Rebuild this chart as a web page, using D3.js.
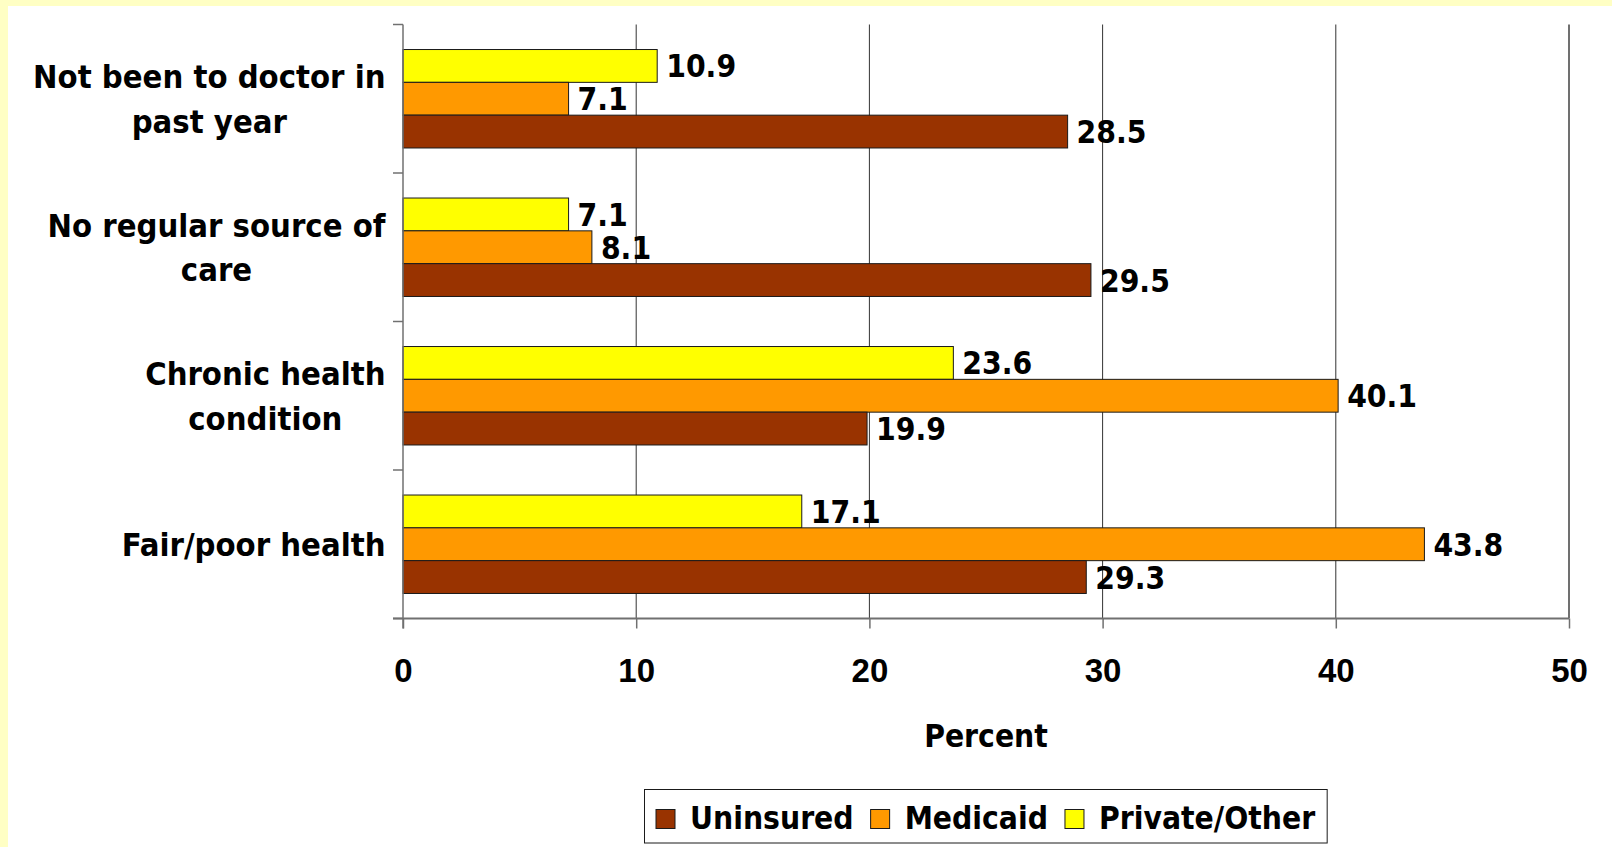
<!DOCTYPE html>
<html>
<head>
<meta charset="utf-8">
<script src="https://cdn.jsdelivr.net/npm/d3@7"></script>
<style>
  html, body { margin: 0; padding: 0; background: #ffffff; }
  svg { display: block; }
  .lbl { font-family: "DejaVu Sans Condensed", "DejaVu Sans", sans-serif; font-stretch: condensed; font-weight: bold; font-size: 31.5px; fill: #000; }
  .cat-lbl { font-size: 32.5px; }
  .tick-lbl { font-family: "Liberation Sans", Arial, sans-serif; font-weight: bold; font-size: 33px; fill: #000; }
</style>
</head>
<body>
<script>
var WIDTH = 1612;
var HEIGHT = 847;

// categories, top to bottom (each as lines of the label)
var categories = [
    ["Not been to doctor in", "past year"],
    ["No regular source of", "care"],
    ["Chronic health", "condition"],
    ["Fair/poor health"]
];
var seriesNames = ["Private/Other", "Medicaid", "Uninsured"];   // top to bottom inside a group
var seriesColors = ["#ffff00", "#ff9900", "#993300"];
var privateOther = [10.9, 7.1, 23.6, 17.1];
var medicaid = [7.1, 8.1, 40.1, 43.8];
var uninsured = [28.5, 29.5, 19.9, 29.3];
var xTicks = [0, 10, 20, 30, 40, 50];
var legendOrder = ["Uninsured", "Medicaid", "Private/Other"];

var PLOT_LEFT = 403;
var PLOT_RIGHT = 1569;
var PLOT_TOP = 24.5;
var PLOT_BOTTOM = 618.5;
var TICK = 10;

var svg = d3.select("body").append("svg")
    .attr("width", WIDTH)
    .attr("height", HEIGHT);

// light yellow frame on the left and top
svg.append("rect").attr("x", 0).attr("y", 0).attr("width", WIDTH).attr("height", 6).style("fill", "#ffffc4");
svg.append("rect").attr("x", 0).attr("y", 0).attr("width", 8).attr("height", HEIGHT).style("fill", "#ffffc4");

var x = d3.scaleLinear().domain([0, 50]).range([PLOT_LEFT, PLOT_RIGHT]);
var catIdx = d3.range(categories.length);
var y = d3.scaleBand().domain(catIdx).range([PLOT_TOP, PLOT_BOTTOM])
    .paddingInner(0.337).paddingOuter(0.1685);
var ySub = d3.scaleBand().domain(d3.range(seriesNames.length)).range([0, y.bandwidth()]);
var step = y.step();

var values = [privateOther, medicaid, uninsured];

// vertical grid lines
svg.append("g").selectAll("line")
    .data(xTicks.slice(1))
    .enter().append("line")
    .attr("x1", function(d){ return x(d); })
    .attr("x2", function(d){ return x(d); })
    .attr("y1", PLOT_TOP)
    .attr("y2", PLOT_BOTTOM)
    .style("stroke", function(d){ return d == 50 ? "#707070" : "#333333"; })
    .style("stroke-width", function(d){ return d == 50 ? 2 : 1; });

// bars
catIdx.forEach(function(ci){
    var g = svg.append("g").attr("transform", "translate(0," + y(ci) + ")");
    values.forEach(function(vals, si){
        var v = vals[ci];
        g.append("rect")
            .attr("x", x(0))
            .attr("y", ySub(si))
            .attr("width", x(v) - x(0))
            .attr("height", ySub.bandwidth())
            .style("fill", seriesColors[si])
            .style("stroke", "#1a1a1a")
            .style("stroke-width", 1);
    });
});

// left axis with category ticks
svg.append("line")
    .attr("x1", PLOT_LEFT).attr("x2", PLOT_LEFT)
    .attr("y1", PLOT_TOP).attr("y2", PLOT_BOTTOM + TICK)
    .style("stroke", "#707070").style("stroke-width", 1.5);
svg.append("g").selectAll("line")
    .data(d3.range(categories.length + 1))
    .enter().append("line")
    .attr("x1", PLOT_LEFT - TICK).attr("x2", PLOT_LEFT)
    .attr("y1", function(d){ return PLOT_TOP + d * step; })
    .attr("y2", function(d){ return PLOT_TOP + d * step; })
    .style("stroke", "#707070").style("stroke-width", 1.5);

// bottom axis
var xAxis = d3.axisBottom(x).tickValues(xTicks).tickSize(TICK).tickPadding(30);
var ax = svg.append("g")
    .attr("transform", "translate(0," + PLOT_BOTTOM + ")")
    .call(xAxis);
ax.select(".domain").remove();
ax.append("line")
    .attr("x1", PLOT_LEFT - TICK).attr("x2", PLOT_RIGHT)
    .attr("y1", 0).attr("y2", 0)
    .style("stroke", "#707070").style("stroke-width", 2);
ax.selectAll(".tick line").style("stroke", "#707070").style("stroke-width", 1.5);
ax.selectAll(".tick text")
    .attr("class", "tick-lbl")
    .attr("font-family", null).attr("font-size", null)
    .attr("dy", null)
    .attr("y", 63.5);

// value labels
catIdx.forEach(function(ci){
    values.forEach(function(vals, si){
        var v = vals[ci];
        svg.append("text")
            .attr("class", "lbl")
            .attr("x", x(v) + 9)
            .attr("y", y(ci) + ySub(si) + ySub.bandwidth() / 2 + 11.5)
            .text(v.toFixed(1));
    });
});

// category labels: block right aligned, lines centered inside it
var LABEL_RIGHT = 385.5;
var LINE_H = 44.5;
catIdx.forEach(function(ci){
    var lines = categories[ci];
    var g = svg.append("g");
    var texts = lines.map(function(line){
        return g.append("text").attr("class", "lbl cat-lbl").attr("text-anchor", "middle").text(line);
    });
    var maxW = d3.max(texts, function(t){ return t.node().getComputedTextLength(); });
    var cx = LABEL_RIGHT - maxW / 2;
    var cy = y(ci) + y.bandwidth() / 2;
    texts.forEach(function(t, li){
        var off = (li - (lines.length - 1) / 2) * LINE_H;
        t.attr("x", cx).attr("y", cy + off + 11.5);
    });
});

// axis title
svg.append("text")
    .attr("class", "lbl")
    .attr("text-anchor", "middle")
    .attr("x", (PLOT_LEFT + PLOT_RIGHT) / 2)
    .attr("y", 747)
    .text("Percent");

// legend
var legend = svg.append("g");
var box = legend.append("rect")
    .attr("x", 644.5).attr("y", 789.5)
    .attr("height", 53.5)
    .style("fill", "#ffffff")
    .style("stroke", "#1a1a1a").style("stroke-width", 1);
var lx = 656;
legendOrder.forEach(function(name){
    var si = seriesNames.indexOf(name);
    legend.append("rect")
        .attr("x", lx).attr("y", 809.5)
        .attr("width", 19).attr("height", 19)
        .style("fill", seriesColors[si])
        .style("stroke", "#1a1a1a").style("stroke-width", 1);
    var t = legend.append("text")
        .attr("class", "lbl")
        .attr("x", lx + 34)
        .attr("y", 828.5)
        .text(name);
    lx = lx + 34 + t.node().getComputedTextLength() + 17;
});
box.attr("width", lx - 17 + 12 - 644.5);
</script>
</body>
</html>
